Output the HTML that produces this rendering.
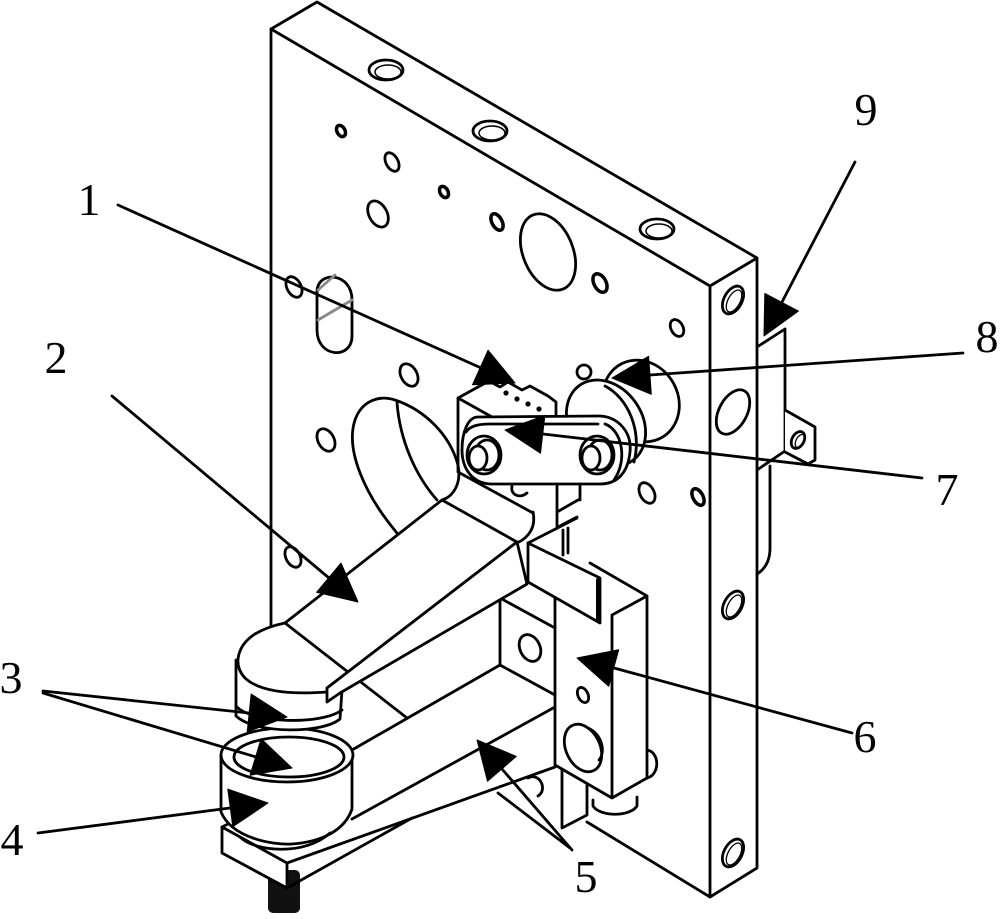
<!DOCTYPE html>
<html><head><meta charset="utf-8"><style>
html,body{margin:0;padding:0;background:#fff;}
svg{display:block;}
text{font-family:"Liberation Serif",serif;font-size:46px;fill:#000;}
</style></head><body>
<svg width="1000" height="919" viewBox="0 0 1000 919" xmlns="http://www.w3.org/2000/svg">
<g fill="none" stroke="#000" stroke-width="2.8" stroke-linejoin="round" stroke-linecap="round">

<!-- Plate -->
<path d="M271,628 L271,29 L317,2 L757,258 L757,868 L710,897 L587,822"/>
<path d="M271,29 L710,286 L710,897 M710,286 L757,258"/>

<!-- top counterbores -->
<ellipse cx="386" cy="70" rx="17" ry="10"/><ellipse cx="388" cy="72" rx="13" ry="7" stroke-width="1.5"/>
<ellipse cx="490" cy="131" rx="17" ry="10"/><ellipse cx="492" cy="133" rx="13" ry="7" stroke-width="1.5"/>
<ellipse cx="657" cy="229" rx="17" ry="10"/><ellipse cx="659" cy="231" rx="13" ry="7" stroke-width="1.5"/>

<!-- front face holes -->
<ellipse cx="341" cy="131" rx="4" ry="6" stroke-width="3.5" transform="rotate(-28 341 131)"/>
<ellipse cx="392" cy="162" rx="6" ry="10" transform="rotate(-28 392 162)"/>
<ellipse cx="444" cy="192" rx="4" ry="6" stroke-width="3.5" transform="rotate(-28 444 192)"/>
<ellipse cx="378" cy="214" rx="9" ry="14" transform="rotate(-28 378 214)"/>
<ellipse cx="497" cy="222" rx="5" ry="9" stroke-width="3.5" transform="rotate(-28 497 222)"/>
<ellipse cx="548" cy="252" rx="25" ry="40" transform="rotate(-22 548 252)"/>
<ellipse cx="600" cy="283" rx="6" ry="10" stroke-width="3.5" transform="rotate(-28 600 283)"/>
<ellipse cx="294" cy="287" rx="7" ry="11" transform="rotate(-28 294 287)"/>
<ellipse cx="409" cy="375" rx="8" ry="12" transform="rotate(-28 409 375)"/>
<ellipse cx="326" cy="440" rx="8" ry="12" transform="rotate(-28 326 440)"/>
<ellipse cx="293" cy="557" rx="7" ry="11" transform="rotate(-28 293 557)"/>
<ellipse cx="677" cy="328" rx="6" ry="9" transform="rotate(-28 677 328)"/>
<ellipse cx="647" cy="493" rx="7" ry="11" transform="rotate(-28 647 493)"/>
<ellipse cx="698" cy="497" rx="5" ry="9" stroke-width="3.5" transform="rotate(-28 698 497)"/>
<path d="M528,778 C540,772 548,790 538,796"/>

<!-- slot -->
<path d="M317,292 C317,270 352,272 352,300 L352,336 C352,360 317,358 317,330 Z"/>
<path d="M318,290 L335,275 M318,320 L352,300" stroke="#888"/>

<!-- side face holes -->
<ellipse cx="733" cy="300" rx="9" ry="15" transform="rotate(28 733 300)"/>
<ellipse cx="734" cy="301" rx="6" ry="12" stroke-width="1.3" transform="rotate(28 734 301)"/>
<ellipse cx="733" cy="412" rx="14" ry="24" transform="rotate(28 733 412)"/>
<ellipse cx="733" cy="605" rx="9" ry="15" transform="rotate(28 733 605)"/>
<ellipse cx="734" cy="606" rx="6" ry="12" stroke-width="1.3" transform="rotate(28 734 606)"/>
<ellipse cx="733" cy="853" rx="9" ry="15" transform="rotate(28 733 853)"/>
<ellipse cx="734" cy="854" rx="6" ry="12" stroke-width="1.3" transform="rotate(28 734 854)"/>

<!-- Part 9 -->
<path d="M757,347 L785,329 L785,451 L757,470"/>
<path d="M785,410 L815,427 L815,460 L808,464 L785,452" fill="#fff"/>
<ellipse cx="798" cy="440" rx="6" ry="9" transform="rotate(28 798 440)"/>
<ellipse cx="800" cy="441" rx="4" ry="7" stroke-width="1.3" transform="rotate(28 800 441)"/>
<path d="M770,466 L770,548 Q770,566 757,574"/>

<!-- Arm 2 cylinder in plate -->
<path d="M397,533 C365,495 345,450 355,420 C362,400 380,395 395,400 C425,410 450,435 458,465 C462,485 452,497 442,500" fill="#fff"/>
<path d="M397,403 C400,440 415,475 437,500"/>

<!-- Part 8 knob -->
<ellipse cx="641" cy="401" rx="37" ry="42" transform="rotate(-30 641 401)" fill="#fff"/>
<ellipse cx="584" cy="372" rx="7" ry="7" fill="#fff"/>
<ellipse cx="606" cy="423" rx="36" ry="46" transform="rotate(-35 606 423)" fill="#fff"/>
<path d="M605,386 C628,398 642,430 634,462"/>

<!-- Part 1 box + sensor -->
<path d="M458,398 L458,472 L533,513 M458,398 L478,387 M458,398 L492,417"/>
<path d="M478,387 L489,381 L500,387 L508,382 L522,390 L530,386 L548,396 L556,402 L556,414" fill="#fff"/>
<g fill="#000" stroke="none">
<circle cx="506" cy="393" r="2.6"/><circle cx="517" cy="399" r="2.6"/><circle cx="528" cy="404" r="2.6"/><circle cx="539" cy="409" r="2.6"/>
</g>
<path d="M512,486 C510,495 520,499 527,493"/>

<!-- Link 7 -->
<path d="M478,417 L598,416 C618,416 632,432 630,452 C628,472 618,484 600,484 L492,484 C472,484 462,468 462,450 C462,432 468,417 478,417 Z" fill="#fff"/>
<path d="M466,432 C470,426 478,424 490,424 L598,424"/>
<path d="M605,424 C622,430 628,460 614,480"/>
<ellipse cx="484" cy="455" rx="17" ry="19"/>
<ellipse cx="487" cy="455" rx="12" ry="15"/>
<ellipse cx="478" cy="458" rx="9" ry="12" fill="#fff"/>
<ellipse cx="597" cy="455" rx="17" ry="19"/>
<ellipse cx="600" cy="455" rx="12" ry="15"/>
<ellipse cx="591" cy="458" rx="9" ry="12" fill="#fff"/>

<!-- stem -->
<path d="M557,484 L557,527 M580,484 L580,500 M557,512 L578,500 M558,527 L577,517 M563,530 L563,555 M568,528 L568,553 M528,543 L577,518"/>

<!-- Part 6 -->
<path d="M590,563 L647,596 L612,615 M647,596 L647,778 L612,798 L555,765 L555,597 M612,615 L612,798"/>
<ellipse cx="583" cy="695" rx="5" ry="8" transform="rotate(-25 583 695)"/>
<ellipse cx="583" cy="748" rx="17" ry="25" transform="rotate(-25 583 748)"/>
<path d="M588,728 C602,734 606,752 599,760"/>
<path d="M593,800 L593,806 C600,817 630,817 637,806 L637,797"/>
<path d="M647,750 C660,752 660,775 647,778"/>
<path d="M562,769 L562,828 L587,815 L587,784"/>
<!-- flag plate -->
<path d="M528,543 L600,578 L600,623 L528,582 Z" fill="#fff"/>
<path d="M598,580 L598,621" stroke-width="4"/>

<!-- Part 5 block and bar -->
<path d="M500,598 L500,665 L555,695 M500,598 L555,628 M500,598 L527,583"/>
<ellipse cx="530" cy="648" rx="10" ry="14" transform="rotate(-25 530 648)"/>
<path d="M352,750 L500,665"/>
<path d="M352,819 L555,707"/>
<path d="M287,863 L555,767"/>

<!-- screw + pad -->
<rect x="268" y="870" width="32" height="43" rx="5" fill="#111" stroke="none"/>
<path d="M222,827 L287,863 L287,888 L222,853 Z" fill="#fff"/>
<path d="M287,888 L412,818 M222,827 L240,818"/>

<!-- Cylinders 4 / 3 -->
<path d="M221,755 L221,812 C232,838 272,845 292,844 C322,842 345,830 352,809 L352,755" fill="#fff"/>
<path d="M240,837 C255,852 305,856 330,833"/>
<ellipse cx="287" cy="755" rx="66" ry="27" fill="#fff"/>
<ellipse cx="289" cy="757" rx="55" ry="20"/>
<path d="M236,660 L236,716 C255,734 322,734 340,719 L342,690" fill="#fff"/>
<path d="M236,706 C252,724 322,725 342,710"/>

<!-- Arm 2 -->
<path d="M285,623 L442,500 L517,542 L327,688 L327,692 C300,694 262,694 245,678 C232,664 238,645 255,634 C265,628 275,625 285,623 Z" fill="#fff"/>
<path d="M533,512 C536,526 530,537 517,543"/>
<path d="M285,623 L407,718"/>
<path d="M517,542 L527,584 L340,693 L327,702 L327,688 Z" fill="#fff"/>

<!-- Leaders -->
<path d="M118,205 L480,367.5"/>
<path d="M112,396 L329,578"/>
<path d="M43,691 L249,713"/>
<path d="M43,693 L256,757"/>
<path d="M38,833 L230,808"/>
<path d="M572,850 L502,769 M570,848 L498,793"/>
<path d="M852,733 L614,668"/>
<path d="M922,478 L543,434"/>
<path d="M963,353 L650,375"/>
<path d="M855,162 L782,302"/>
</g>

<!-- Arrowheads -->
<g fill="#000" stroke="#000" stroke-width="1" stroke-linejoin="round">
<polygon points="515,383 472.5,384.8 488.1,350.2"/>
<polygon points="358,602 316.6,592.3 341,563.1"/>
<polygon points="287,717 247.2,731.9 251.2,694.1"/>
<polygon points="292,768 250.1,775.2 261.1,738.8"/>
<polygon points="268,803 232.8,826.7 227.8,789.1"/>
<polygon points="477,740 516.3,756.4 487.5,781.2"/>
<polygon points="577,658 618.7,649.7 608.7,686.3"/>
<polygon points="505,430 544.9,415.4 540.5,453.2"/>
<polygon points="612,378 648.6,356.3 651.3,394.3"/>
<polygon points="764,336 764.8,293.5 798.4,311.1"/>
</g>

<!-- Labels -->
<g text-anchor="middle">
<text x="89" y="215">1</text>
<text x="56" y="373">2</text>
<text x="11" y="693">3</text>
<text x="12" y="855">4</text>
<text x="586" y="892">5</text>
<text x="865" y="752">6</text>
<text x="947" y="505">7</text>
<text x="987" y="352">8</text>
<text x="866" y="125">9</text>
</g>
</svg>
</body></html>
